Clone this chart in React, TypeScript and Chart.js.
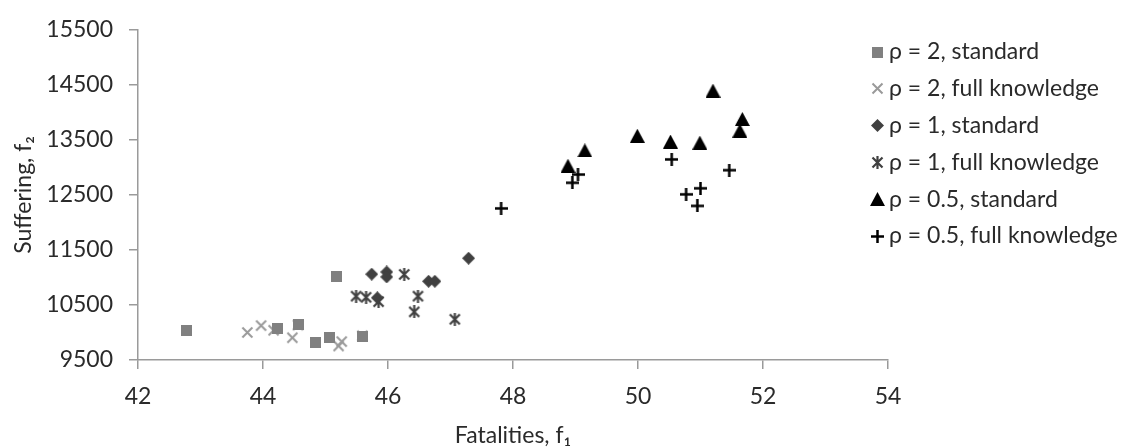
import { useEffect, useRef } from "react";
import { Chart, registerables } from "chart.js";

Chart.register(...registerables);

// ---- data ----
const seriesLabels = [
  "ρ = 2, standard",
  "ρ = 2, full knowledge",
  "ρ = 1, standard",
  "ρ = 1, full knowledge",
  "ρ = 0.5, standard",
  "ρ = 0.5, full knowledge",
];

const rho2StdX = [42.78, 44.23, 44.56, 44.84, 45.07, 45.17, 45.59];
const rho2StdY = [10030, 10070, 10140, 9825, 9915, 11010, 9935];

const rho2FkX = [43.75, 43.97, 44.17, 44.47, 44.56, 45.21, 45.26, 45.59];
const rho2FkY = [10000, 10125, 10040, 9905, 10135, 9755, 9835, 9940];

const rho1StdX = [45.74, 45.98, 45.98, 45.83, 46.65, 46.75, 47.29];
const rho1StdY = [11060, 11100, 11010, 10630, 10930, 10930, 11350];

const rho1FkX = [45.49, 45.65, 45.85, 46.26, 46.48, 46.42, 47.07];
const rho1FkY = [10660, 10640, 10560, 11055, 10660, 10375, 10240];

const rho05StdX = [48.88, 49.15, 49.99, 50.52, 50.99, 51.2, 51.67, 51.63];
const rho05StdY = [13030, 13310, 13575, 13470, 13450, 14395, 13880, 13670];

const rho05FkX = [47.81, 48.95, 49.04, 50.54, 50.77, 51.0, 50.95, 51.46];
const rho05FkY = [12255, 12720, 12870, 13145, 12510, 12620, 12300, 12950];

const xMin = 42;
const xMax = 54;
const xStep = 2;
const yMin = 9500;
const yMax = 15500;
const yStep = 1000;

const xTitle = "Fatalities, f₁";
const yTitle = "Suffering, f₂";

// ---- marker images ----
type Kind = "square" | "x" | "diamond" | "star" | "triangle" | "plus";

function makeMarker(kind: Kind, color: string): HTMLCanvasElement {
  const c = document.createElement("canvas");
  let w = 13;
  let h = 13;
  if (kind === "square") { w = 11; h = 11; }
  if (kind === "triangle") { w = 15; h = 14; }
  c.width = w;
  c.height = h;
  const ctx = c.getContext("2d")!;
  ctx.fillStyle = color;
  ctx.strokeStyle = color;
  if (kind === "square") {
    ctx.fillRect(0, 0, w, h);
  } else if (kind === "x") {
    ctx.lineWidth = 2;
    ctx.beginPath();
    ctx.moveTo(1.5, 1.5); ctx.lineTo(w - 1.5, h - 1.5);
    ctx.moveTo(w - 1.5, 1.5); ctx.lineTo(1.5, h - 1.5);
    ctx.stroke();
  } else if (kind === "diamond") {
    ctx.beginPath();
    ctx.moveTo(w / 2, 0); ctx.lineTo(w, h / 2); ctx.lineTo(w / 2, h); ctx.lineTo(0, h / 2);
    ctx.closePath();
    ctx.fill();
  } else if (kind === "star") {
    ctx.lineWidth = 2.2;
    ctx.beginPath();
    ctx.moveTo(1.5, 1.5); ctx.lineTo(w - 1.5, h - 1.5);
    ctx.moveTo(w - 1.5, 1.5); ctx.lineTo(1.5, h - 1.5);
    ctx.moveTo(w / 2, 0); ctx.lineTo(w / 2, h);
    ctx.stroke();
  } else if (kind === "triangle") {
    ctx.beginPath();
    ctx.moveTo(w / 2, 0); ctx.lineTo(w, h); ctx.lineTo(0, h);
    ctx.closePath();
    ctx.fill();
  } else if (kind === "plus") {
    ctx.lineWidth = 2.5;
    ctx.beginPath();
    ctx.moveTo(0, h / 2); ctx.lineTo(w, h / 2);
    ctx.moveTo(w / 2, 0); ctx.lineTo(w / 2, h);
    ctx.stroke();
  }
  return c;
}

const FONT = "Lato, 'Open Sans', sans-serif";
const TEXT = "#2a2a2a";
const AXIS = "#9a9a9a";

export default function App() {
  const ref = useRef<HTMLCanvasElement | null>(null);

  useEffect(() => {
    document.body.style.margin = "0";
    const canvas = ref.current;
    if (!canvas) return;

    const markers = [
      makeMarker("square", "#808080"),
      makeMarker("x", "#9a9a9a"),
      makeMarker("diamond", "#404040"),
      makeMarker("star", "#404040"),
      makeMarker("triangle", "#000000"),
      makeMarker("plus", "#000000"),
    ];

    const xs = [rho2StdX, rho2FkX, rho1StdX, rho1FkX, rho05StdX, rho05FkX];
    const ys = [rho2StdY, rho2FkY, rho1StdY, rho1FkY, rho05StdY, rho05FkY];

    const datasets = seriesLabels.map((label, i) => ({
      label,
      data: xs[i].map((x, j) => ({ x, y: ys[i][j] })),
      pointStyle: markers[i],
      pointRadius: 6,
      showLine: false,
    }));

    const legendPlugin = {
      id: "customLegend",
      afterDraw(chart: any) {
        const ctx = chart.ctx as CanvasRenderingContext2D;
        const markerX = 877;
        const textX = 889;
        const rowY0 = 52;
        const rowStep = 36.8;
        ctx.save();
        ctx.font = `23px ${FONT}`;
        ctx.fillStyle = TEXT;
        ctx.textBaseline = "middle";
        ctx.textAlign = "left";
        seriesLabels.forEach((label, i) => {
          const y = rowY0 + i * rowStep;
          const m = markers[i];
          ctx.drawImage(m, Math.round(markerX - m.width / 2), Math.round(y - m.height / 2));
          ctx.fillText(label, textX, y);
        });
        ctx.restore();
      },
    };

    const chart = new Chart(canvas, {
      type: "scatter",
      data: { datasets },
      options: {
        animation: false,
        responsive: false,
        layout: { padding: { left: 0, right: 248, top: 28, bottom: 0 }, autoPadding: false },
        plugins: { legend: { display: false }, tooltip: { enabled: false } },
        scales: {
          x: {
            type: "linear",
            min: xMin,
            max: xMax,
            afterFit: (s: any) => { s.height = 87; },
            ticks: {
              stepSize: xStep,
              padding: 14,
              color: TEXT,
              font: { family: FONT, size: 23 },
              callback: (v: any) => String(v),
            },
            grid: { drawOnChartArea: false, drawTicks: true, tickLength: 9, tickColor: AXIS, lineWidth: 1.5 },
            border: { display: true, color: AXIS, width: 1.5 },
            title: {
              display: true,
              text: xTitle,
              color: TEXT,
              font: { family: FONT, size: 23, lineHeight: 1 },
              padding: { top: 0, bottom: 0 },
            },
          },
          y: {
            type: "linear",
            min: yMin,
            max: yMax,
            afterFit: (s: any) => { s.width = 138; },
            ticks: {
              stepSize: yStep,
              padding: 16,
              color: TEXT,
              font: { family: FONT, size: 23 },
              callback: (v: any) => String(v),
            },
            grid: { drawOnChartArea: false, drawTicks: true, tickLength: 9, tickColor: AXIS, lineWidth: 1.5 },
            border: { display: true, color: AXIS, width: 1.5 },
            title: {
              display: true,
              text: yTitle,
              color: TEXT,
              font: { family: FONT, size: 23, lineHeight: 1.2 },
              padding: { top: 10, bottom: 0 },
            },
          },
        },
      },
      plugins: [legendPlugin],
    });

    return () => chart.destroy();
  }, []);

  return <canvas ref={ref} width={1136} height={447} style={{ display: "block" }} />;
}
